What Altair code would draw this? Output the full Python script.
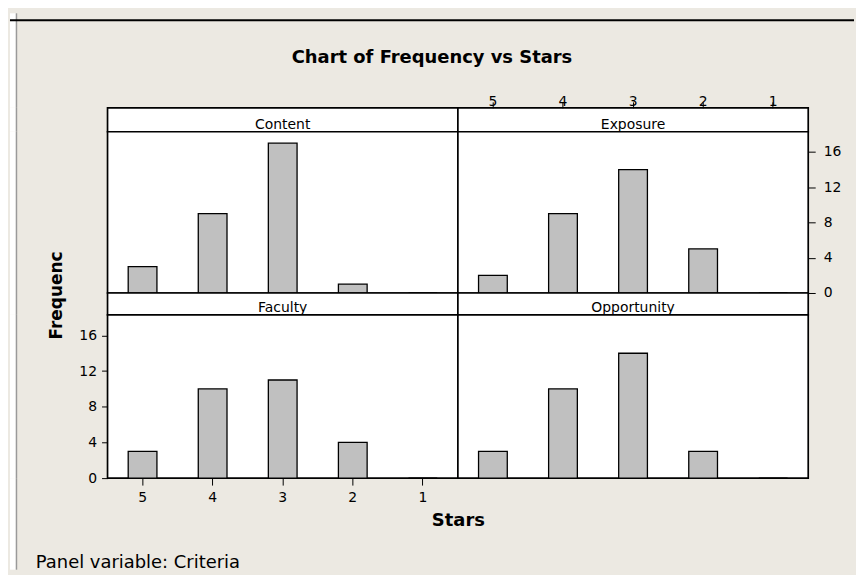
import altair as alt
import pandas as pd

# ---- data ----
stars = ["5", "4", "3", "2", "1"]
criteria = ["Content", "Exposure", "Faculty", "Opportunity"]
content = [3, 9, 17, 1, 0]
exposure = [2, 9, 14, 5, 0]
faculty = [3, 10, 11, 4, 0]
opportunity = [3, 10, 14, 3, 0]
y_ticks = [0, 4, 8, 12, 16]

title_text = "Chart of Frequency vs Stars"
x_title = "Stars"
y_title = "Frequenc"
footer_text = "Panel variable: Criteria"

# ---- layout / style ----
FONT = "DejaVu Sans"
BG = "#ECE9E2"
FRAME = "#9A9A9A"
BAR = "#C0C0C0"
PW = 352
HDR_TOP, HDR_BOT = 24, 22
PH_TOP, PH_BOT = 162, 164
LEFT = 98
BANNER_H = 95
TOTAL_W = 848
FOOT_H = 92

one = pd.DataFrame({"k": [0]})
panel_view = alt.ViewBackground(fill="white", stroke="black", strokeWidth=1.7)
x_scale = alt.Scale(domain=stars, paddingInner=0.59, paddingOuter=0.295)
y_scale = alt.Scale(domain=[0, 18.3], nice=False, zero=True)


def panel_df(vals, name):
    return pd.DataFrame({"Stars": stars, "Frequency": vals, "Criteria": name})


def strip(h):
    white = alt.Chart(one).mark_rule(color="white", strokeWidth=6).encode(
        x=alt.value(3), y=alt.value(0), y2=alt.value(h))
    gray = alt.Chart(one).mark_rule(color=FRAME, strokeWidth=1.5).encode(
        x=alt.value(6.5), y=alt.value(0), y2=alt.value(h))
    return [white, gray]


def spacer(h, *extra):
    return alt.layer(*strip(h), *extra).properties(width=LEFT, height=h)


def empty(h):
    return alt.Chart(one).mark_rule(opacity=0).encode(
        x=alt.value(0), y=alt.value(0), y2=alt.value(1)).properties(width=PW, height=h)


def header(name, h, vals=None, top_axis=False):
    txt = alt.Chart(pd.DataFrame({"Criteria": [name]})).mark_text(
        font=FONT, fontSize=14, color="black", baseline="alphabetic", align="center"
    ).encode(text="Criteria:N", x=alt.value(PW / 2), y=alt.value(h - 3))
    layers = []
    if top_axis:
        ax = alt.Chart(panel_df(vals, name)).mark_tick(opacity=0).encode(
            x=alt.X("Stars:O", scale=x_scale,
                    axis=alt.Axis(orient="top", title=None, domain=False, grid=False,
                                  tickSize=6, tickColor="black", tickWidth=1,
                                  labelPadding=-4, labelBaseline="alphabetic",
                                  labelFont=FONT, labelFontSize=14, labelColor="black",
                                  labelAngle=0)))
        layers.append(ax)
    layers.append(txt)
    return alt.layer(*layers, view=panel_view).properties(width=PW, height=h)


def plot(vals, name, h, xaxis=None, yaxis=None):
    return alt.Chart(panel_df(vals, name), view=panel_view).mark_bar(
        fill=BAR, stroke="black", strokeWidth=1.3
    ).encode(
        x=alt.X("Stars:O", scale=x_scale, axis=xaxis),
        y=alt.Y("Frequency:Q", scale=y_scale, axis=yaxis),
    ).properties(width=PW, height=h)


right_axis = alt.Axis(orient="right", values=y_ticks, title=None, domain=False, grid=False,
                      tickSize=7, tickColor="black", labelPadding=8,
                      labelFont=FONT, labelFontSize=14, labelColor="black")
left_axis = alt.Axis(orient="left", values=y_ticks, domain=False, grid=False,
                     tickSize=6, tickColor="black", labelPadding=5,
                     labelFont=FONT, labelFontSize=14, labelColor="black",
                     title=y_title, titleX=-51, titleY=-20, titleAngle=270,
                     titleAlign="center", titleBaseline="middle",
                     titleFont=FONT, titleFontSize=17, titleFontWeight="bold",
                     titleColor="black")
bottom_axis = alt.Axis(orient="bottom", domain=False, grid=False, labelAngle=0,
                       tickSize=7, tickColor="black", labelPadding=5,
                       labelFont=FONT, labelFontSize=14, labelColor="black",
                       title=x_title, titleX=PW, titleY=43,
                       titleAlign="center", titleBaseline="middle",
                       titleFont=FONT, titleFontSize=18, titleFontWeight="bold",
                       titleColor="black")

# banner: black rule and the chart title (drawn from the left cell, spanning the row)
black_line = alt.Chart(one).mark_rule(color="black", strokeWidth=2).encode(
    x=alt.value(0), x2=alt.value(TOTAL_W), y=alt.value(7))
title_mark = alt.Chart(pd.DataFrame({"t": [title_text]})).mark_text(
    font=FONT, fontSize=18, fontWeight="bold", color="black", align="center", baseline="middle"
).encode(text="t:N", x=alt.value(424), y=alt.value(45))
foot_mark = alt.Chart(pd.DataFrame({"t": [footer_text]})).mark_text(
    font=FONT, fontSize=18, color="black", align="left", baseline="alphabetic"
).encode(text="t:N", x=alt.value(26), y=alt.value(FOOT_H - 2))

cells = [
    spacer(BANNER_H, black_line, title_mark), empty(BANNER_H), empty(BANNER_H),
    spacer(HDR_TOP), header(criteria[0], HDR_TOP),
    header(criteria[1], HDR_TOP, exposure, top_axis=True),
    spacer(PH_TOP), plot(content, criteria[0], PH_TOP),
    plot(exposure, criteria[1], PH_TOP, yaxis=right_axis),
    spacer(HDR_BOT), header(criteria[2], HDR_BOT), header(criteria[3], HDR_BOT),
    spacer(PH_BOT), plot(faculty, criteria[2], PH_BOT, xaxis=bottom_axis, yaxis=left_axis),
    plot(opportunity, criteria[3], PH_BOT),
    spacer(FOOT_H, foot_mark), empty(FOOT_H), empty(FOOT_H),
]

chart = alt.concat(*cells, columns=3, spacing=0, bounds="flush", align="each").properties(
    background=BG, padding=0
).configure_view(stroke="transparent")

chart.save("out.html", embed_options={"renderer": "svg", "actions": False})
